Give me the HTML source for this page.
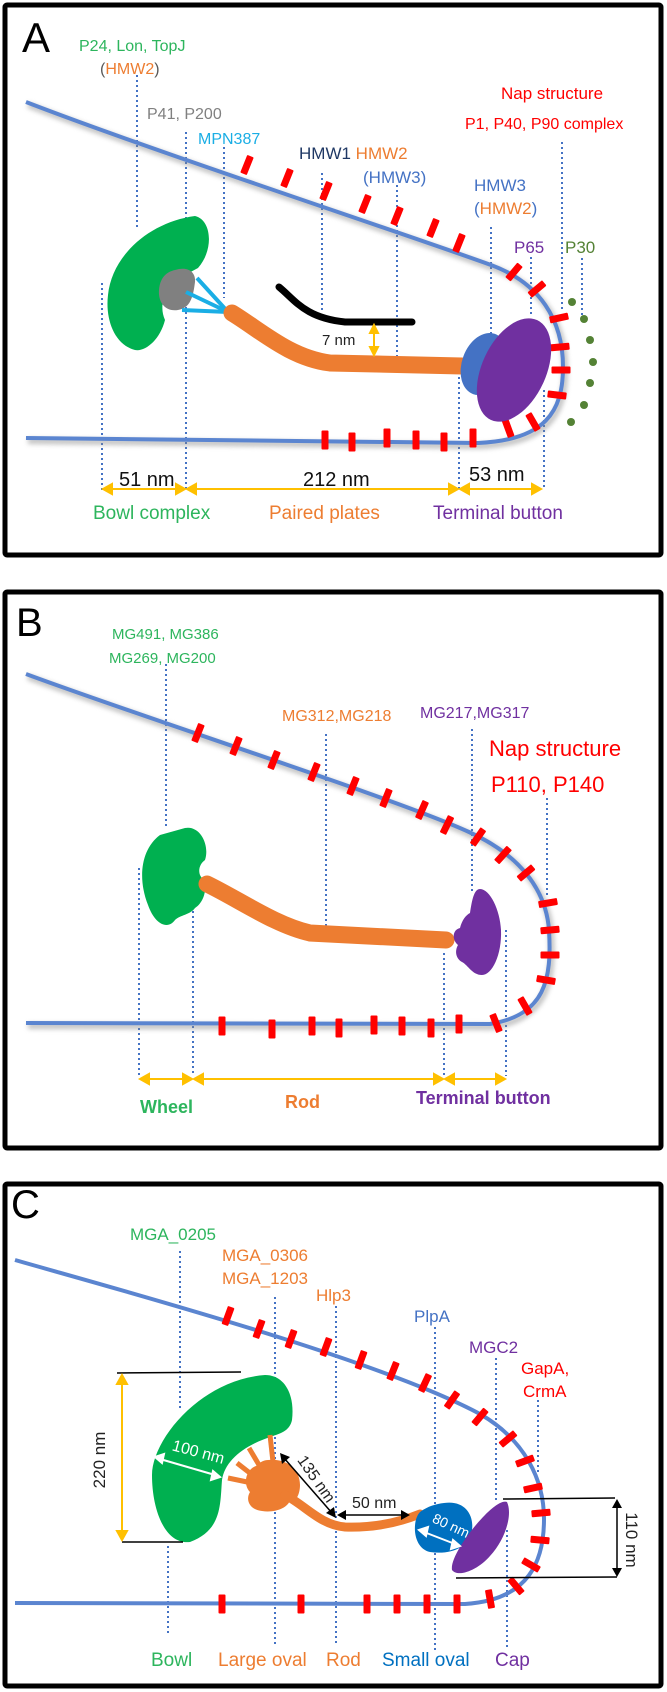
<!DOCTYPE html>
<html><head><meta charset="utf-8"><style>
html,body{margin:0;padding:0;background:#fff}
svg{display:block}
text{font-family:"Liberation Sans",Arial,sans-serif}
</style></head><body>
<svg width="667" height="1692" viewBox="0 0 667 1692" xmlns="http://www.w3.org/2000/svg">
<defs>
<filter id="bl" x="-10%" y="-10%" width="120%" height="120%"><feGaussianBlur stdDeviation="2.5"/></filter>
<g id="rm"><rect x="-3.5" y="-9.5" width="7" height="19" rx="1" fill="#ff0000"/></g>
</defs>

<rect x="5" y="5" width="656" height="550" fill="none" stroke="#000" stroke-width="5" rx="2"/>
<rect x="5" y="592" width="656" height="556" fill="none" stroke="#000" stroke-width="5" rx="2"/>
<rect x="5" y="1184" width="656" height="502" fill="none" stroke="#000" stroke-width="5" rx="2"/>

<!-- ================= PANEL A ================= -->
<text x="22" y="52" font-size="42">A</text>
<g stroke="#4472c4" stroke-width="2" stroke-dasharray="2,3" fill="none">
<line x1="137" y1="75" x2="137" y2="230"/>
<line x1="186" y1="132" x2="186" y2="490"/>
<line x1="224" y1="147" x2="224" y2="298"/>
<line x1="102" y1="283" x2="102" y2="492"/>
<line x1="322" y1="173" x2="322" y2="310"/>
<line x1="397" y1="185" x2="397" y2="363"/>
<line x1="491" y1="227" x2="491" y2="337"/>
<line x1="459" y1="377" x2="459" y2="490"/>
<line x1="531" y1="257" x2="531" y2="317"/>
<line x1="562" y1="142" x2="562" y2="310"/>
<line x1="544" y1="390" x2="544" y2="487"/>
<line x1="582" y1="258" x2="582" y2="317"/>
</g>
<path d="M26,102 C150,150 400,232 491,265 C540,283 563,320 563,367 C563,412 545,440 478,443 L26,438" fill="none" stroke="#888" stroke-width="6" opacity="0.5" filter="url(#bl)" transform="translate(2,3)"/>
<path d="M26,102 C150,150 400,232 491,265 C540,283 563,320 563,367 C563,412 545,440 478,443 L26,438" fill="none" stroke="#5b85d0" stroke-width="4"/>
<g>
<use href="#rm" transform="translate(247,165) rotate(22)"/>
<use href="#rm" transform="translate(287,178) rotate(22)"/>
<use href="#rm" transform="translate(326,191) rotate(22)"/>
<use href="#rm" transform="translate(365,204) rotate(22)"/>
<use href="#rm" transform="translate(397,216) rotate(22)"/>
<use href="#rm" transform="translate(433,228) rotate(22)"/>
<use href="#rm" transform="translate(459,243) rotate(22)"/>
<use href="#rm" transform="translate(514,272) rotate(40)"/>
<use href="#rm" transform="translate(537,289) rotate(50)"/>
<use href="#rm" transform="translate(559,318) rotate(78)"/>
<use href="#rm" transform="translate(560,347) rotate(85)"/>
<use href="#rm" transform="translate(561,370) rotate(90)"/>
<use href="#rm" transform="translate(557,395) rotate(97)"/>
<use href="#rm" transform="translate(533,422) rotate(-30)"/>
<use href="#rm" transform="translate(508,428) rotate(-20)"/>
<use href="#rm" transform="translate(325,440)"/>
<use href="#rm" transform="translate(352,442)"/>
<use href="#rm" transform="translate(387,438)"/>
<use href="#rm" transform="translate(416,440)"/>
<use href="#rm" transform="translate(444,442)"/>
<use href="#rm" transform="translate(473,438)"/>
</g>
<g fill="#548235">
<circle cx="572" cy="302" r="4"/><circle cx="584" cy="319" r="4"/><circle cx="590" cy="340" r="4"/>
<circle cx="593" cy="362" r="4"/><circle cx="590" cy="383" r="4"/><circle cx="584" cy="405" r="4"/><circle cx="571" cy="422" r="4"/>
</g>
<path d="M195,216 C212,220 214,250 198,268 L185,275 C165,285 158,305 165,320 C160,340 145,352 135,350 C115,345 105,320 108,295 C112,255 150,222 195,216 Z" fill="#00b050"/>
<path d="M175,270 C188,266 196,272 195,282 C193,298 190,308 178,310 C165,312 158,302 159,290 C160,278 166,272 175,270 Z" fill="#808080"/>
<g stroke="#1aaee5" stroke-width="4"><line x1="197" y1="278" x2="228" y2="312"/><line x1="186" y1="292" x2="228" y2="312"/><line x1="182" y1="310" x2="228" y2="312"/></g>
<path d="M232,313 C260,330 290,358 330,363 L462,366" fill="none" stroke="#ed7d31" stroke-width="17" stroke-linecap="round"/>
<path d="M279,287 C295,300 305,318 345,322 L412,322" fill="none" stroke="#000" stroke-width="7" stroke-linecap="round"/>
<ellipse cx="484" cy="364" rx="22" ry="32" transform="rotate(20 484 364)" fill="#4472c4"/>
<ellipse cx="514" cy="370" rx="32" ry="55" transform="rotate(25 514 370)" fill="#7030a0"/>
<g stroke="#ffc000" stroke-width="2" fill="#ffc000">
<line x1="374" y1="330" x2="374" y2="350"/>
<polygon points="374,325 370,333 378,333"/><polygon points="374,355 370,347 378,347"/>
<line x1="108" y1="489" x2="180" y2="489"/><line x1="192" y1="489" x2="453" y2="489"/><line x1="465" y1="489" x2="535" y2="489"/>
<polygon points="103,489 112,484 112,494"/><polygon points="185,489 176,484 176,494"/>
<polygon points="187,489 196,484 196,494"/><polygon points="458,489 449,484 449,494"/>
<polygon points="460,489 469,484 469,494"/><polygon points="541,489 532,484 532,494"/>
</g>
<text x="322" y="345" font-size="15" fill="#222">7 nm</text>
<text x="119" y="486" font-size="20" fill="#111">51 nm</text>
<text x="303" y="486" font-size="20" fill="#111">212 nm</text>
<text x="469" y="481" font-size="20" fill="#111">53 nm</text>
<text x="93" y="519" font-size="19" fill="#2db55d">Bowl complex</text>
<text x="269" y="519" font-size="19" fill="#ed7d31">Paired plates</text>
<text x="433" y="519" font-size="19" fill="#7030a0">Terminal button</text>
<text x="79" y="51" font-size="16" fill="#2db55d">P24, Lon, TopJ</text>
<text x="100" y="74" font-size="16" fill="#595959">(<tspan fill="#ed7d31">HMW2</tspan>)</text>
<text x="147" y="119" font-size="16" fill="#808080">P41, P200</text>
<text x="198" y="144" font-size="16" fill="#1aaee5">MPN387</text>
<text x="299" y="159" font-size="17" fill="#1f3864">HMW1 <tspan fill="#ed7d31">HMW2</tspan></text>
<text x="363" y="183" font-size="17" fill="#4472c4">(HMW3)</text>
<text x="474" y="191" font-size="17" fill="#4472c4">HMW3</text>
<text x="474" y="214" font-size="17" fill="#4472c4">(<tspan fill="#ed7d31">HMW2</tspan>)</text>
<text x="514" y="253" font-size="17" fill="#7030a0">P65</text>
<text x="565" y="253" font-size="17" fill="#548235">P30</text>
<text x="501" y="99" font-size="17" fill="#ff0000">Nap structure</text>
<text x="465" y="129" font-size="16" fill="#ff0000">P1,  P40, P90 complex</text>

<!-- ================= PANEL B ================= -->
<text x="16" y="636" font-size="40">B</text>
<g stroke="#4472c4" stroke-width="2" stroke-dasharray="2,3" fill="none">
<line x1="166" y1="664" x2="166" y2="826"/>
<line x1="326" y1="734" x2="326" y2="930"/>
<line x1="472" y1="729" x2="472" y2="894"/>
<line x1="547" y1="798" x2="547" y2="898"/>
<line x1="139" y1="868" x2="139" y2="1076"/>
<line x1="193" y1="891" x2="193" y2="1076"/>
<line x1="444" y1="953" x2="444" y2="1076"/>
<line x1="506" y1="930" x2="506" y2="1076"/>
</g>
<path d="M26,674 C150,720 400,800 469,832 C520,855 546,890 549,930 C552,980 545,1015 490,1024 L26,1023" fill="none" stroke="#888" stroke-width="6" opacity="0.5" filter="url(#bl)" transform="translate(2,3)"/>
<path d="M26,674 C150,720 400,800 469,832 C520,855 546,890 549,930 C552,980 545,1015 490,1024 L26,1023" fill="none" stroke="#5b85d0" stroke-width="4"/>
<g>
<use href="#rm" transform="translate(198,733) rotate(22)"/>
<use href="#rm" transform="translate(236,746) rotate(22)"/>
<use href="#rm" transform="translate(274,760) rotate(22)"/>
<use href="#rm" transform="translate(314,772) rotate(22)"/>
<use href="#rm" transform="translate(353,786) rotate(22)"/>
<use href="#rm" transform="translate(386,798) rotate(22)"/>
<use href="#rm" transform="translate(422,810) rotate(24)"/>
<use href="#rm" transform="translate(447,825) rotate(26)"/>
<use href="#rm" transform="translate(478,837) rotate(35)"/>
<use href="#rm" transform="translate(503,855) rotate(42)"/>
<use href="#rm" transform="translate(526,873) rotate(50)"/>
<use href="#rm" transform="translate(548,903) rotate(80)"/>
<use href="#rm" transform="translate(550,930) rotate(85)"/>
<use href="#rm" transform="translate(550,955) rotate(90)"/>
<use href="#rm" transform="translate(546,980) rotate(100)"/>
<use href="#rm" transform="translate(525,1006) rotate(-30)"/>
<use href="#rm" transform="translate(496,1023) rotate(-22)"/>
<use href="#rm" transform="translate(222,1026)"/>
<use href="#rm" transform="translate(272,1029)"/>
<use href="#rm" transform="translate(312,1026)"/>
<use href="#rm" transform="translate(339,1028)"/>
<use href="#rm" transform="translate(374,1025)"/>
<use href="#rm" transform="translate(402,1026)"/>
<use href="#rm" transform="translate(431,1028)"/>
<use href="#rm" transform="translate(459,1024)"/>
</g>
<path d="M185,828 C200,825 210,845 205,860 C198,865 197,875 204,880 C208,895 200,905 195,908 C190,915 180,915 175,920 C168,930 155,925 148,905 C138,880 140,850 160,835 Z" fill="#00b050"/>
<path d="M207,884 C240,900 275,925 310,933 L446,940" fill="none" stroke="#ed7d31" stroke-width="17" stroke-linecap="round"/>
<path d="M480,889 C490,889 500,910 501,930 C502,955 492,975 482,975 C472,975 468,965 462,962 C455,958 455,950 458,945 C452,940 452,930 460,928 C462,920 466,915 470,913 C472,900 474,889 480,889 Z" fill="#7030a0"/>
<g stroke="#ffc000" stroke-width="2" fill="#ffc000">
<line x1="145" y1="1079" x2="187" y2="1079"/><line x1="199" y1="1079" x2="438" y2="1079"/><line x1="450" y1="1079" x2="500" y2="1079"/>
<polygon points="140,1079 149,1074 149,1084"/><polygon points="192,1079 183,1074 183,1084"/>
<polygon points="194,1079 203,1074 203,1084"/><polygon points="443,1079 434,1074 434,1084"/>
<polygon points="445,1079 454,1074 454,1084"/><polygon points="505,1079 496,1074 496,1084"/>
</g>
<text x="140" y="1113" font-size="18" font-weight="bold" fill="#2db55d">Wheel</text>
<text x="285" y="1108" font-size="18" font-weight="bold" fill="#ed7d31">Rod</text>
<text x="416" y="1104" font-size="18" font-weight="bold" fill="#7030a0">Terminal button</text>
<text x="112" y="639" font-size="15" fill="#2db55d">MG491, MG386</text>
<text x="109" y="663" font-size="15" fill="#2db55d">MG269, MG200</text>
<text x="282" y="721" font-size="16" fill="#ed7d31">MG312,MG218</text>
<text x="420" y="718" font-size="16" fill="#7030a0">MG217,MG317</text>
<text x="489" y="756" font-size="22" fill="#ff0000">Nap structure</text>
<text x="491" y="792" font-size="22" fill="#ff0000">P110,  P140</text>

<!-- ================= PANEL C ================= -->
<text x="11" y="1218" font-size="40">C</text>
<g stroke="#4472c4" stroke-width="2" stroke-dasharray="2,3" fill="none">
<line x1="180" y1="1251" x2="180" y2="1410"/>
<line x1="168" y1="1546" x2="168" y2="1634"/>
<line x1="275" y1="1297" x2="275" y2="1647"/>
<line x1="336" y1="1306" x2="336" y2="1643"/>
<line x1="435" y1="1327" x2="435" y2="1504"/>
<line x1="435" y1="1553" x2="435" y2="1653"/>
<line x1="496" y1="1358" x2="496" y2="1500"/>
<line x1="507" y1="1530" x2="507" y2="1649"/>
<line x1="538" y1="1400" x2="538" y2="1473"/>
</g>
<path d="M15,1260 C120,1290 380,1360 480,1414 C525,1440 544,1480 544,1519 C544,1560 530,1600 465,1604 L15,1603" fill="none" stroke="#5b85d0" stroke-width="4"/>
<g>
<use href="#rm" transform="translate(228,1316) rotate(20)"/>
<use href="#rm" transform="translate(259,1329) rotate(20)"/>
<use href="#rm" transform="translate(291,1339) rotate(20)"/>
<use href="#rm" transform="translate(326,1347) rotate(20)"/>
<use href="#rm" transform="translate(361,1360) rotate(20)"/>
<use href="#rm" transform="translate(393,1371) rotate(22)"/>
<use href="#rm" transform="translate(425,1383) rotate(25)"/>
<use href="#rm" transform="translate(452,1400) rotate(35)"/>
<use href="#rm" transform="translate(480,1417) rotate(40)"/>
<use href="#rm" transform="translate(508,1439) rotate(50)"/>
<use href="#rm" transform="translate(525,1461) rotate(70)"/>
<use href="#rm" transform="translate(533,1488) rotate(78)"/>
<use href="#rm" transform="translate(541,1513) rotate(85)"/>
<use href="#rm" transform="translate(540,1540) rotate(95)"/>
<use href="#rm" transform="translate(531,1565) rotate(-60)"/>
<use href="#rm" transform="translate(516,1586) rotate(-40)"/>
<use href="#rm" transform="translate(490,1599) rotate(-10)"/>
<use href="#rm" transform="translate(222,1604)"/>
<use href="#rm" transform="translate(301,1604)"/>
<use href="#rm" transform="translate(367,1604)"/>
<use href="#rm" transform="translate(397,1604)"/>
<use href="#rm" transform="translate(427,1604)"/>
<use href="#rm" transform="translate(457,1604)"/>
</g>
<path d="M265,1375 C285,1375 295,1395 292,1420 C290,1430 282,1433 273,1436 C245,1445 225,1460 222,1480 C220,1505 222,1530 190,1542 C165,1545 152,1510 152,1475 C152,1440 200,1380 265,1375 Z" fill="#00b050"/>
<g stroke="#ed7d31" stroke-width="5">
<line x1="270" y1="1435" x2="273" y2="1462"/><line x1="249" y1="1448" x2="262" y2="1470"/>
<line x1="237" y1="1463" x2="255" y2="1477"/><line x1="228" y1="1478" x2="252" y2="1483"/>
</g>
<path d="M268,1460 C285,1458 300,1468 300,1485 C300,1498 292,1505 290,1500 C288,1508 275,1513 262,1511 C250,1510 245,1500 250,1492 C243,1485 245,1470 256,1466 C260,1462 264,1460 268,1460 Z" fill="#ed7d31"/>
<path d="M285,1495 C305,1505 320,1525 345,1527 C375,1528 400,1522 420,1514" fill="none" stroke="#ed7d31" stroke-width="9" stroke-linecap="round"/>
<path d="M444,1503 C465,1500 474,1515 472,1530 C470,1548 450,1555 430,1552 C412,1548 412,1520 420,1512 C428,1506 436,1504 444,1503 Z" fill="#0070c0"/>
<path d="M507,1502 C513,1515 505,1540 490,1556 C478,1570 458,1578 452,1570 C450,1558 470,1530 485,1515 C493,1507 502,1500 507,1502 Z" fill="#7030a0"/>
<g stroke="#000" stroke-width="1.5">
<line x1="117" y1="1373" x2="241" y2="1372"/><line x1="122" y1="1542" x2="183" y2="1542"/>
<line x1="503" y1="1499" x2="615" y2="1498"/><line x1="456" y1="1578" x2="617" y2="1577"/>
<line x1="617" y1="1505" x2="617" y2="1571"/>
<line x1="284" y1="1458" x2="332" y2="1513"/>
<line x1="342" y1="1515" x2="404" y2="1515"/>
</g>
<g fill="#000">
<polygon points="617,1499 612,1508 622,1508"/><polygon points="617,1577 612,1568 622,1568"/>
<polygon points="280,1453 282,1464 290,1457"/><polygon points="336,1518 326,1513 334,1507"/>
<polygon points="337,1515 346,1510 346,1520"/><polygon points="410,1515 401,1510 401,1520"/>
</g>
<g stroke="#ffc000" stroke-width="2" fill="#ffc000">
<line x1="122" y1="1380" x2="122" y2="1535"/>
<polygon points="122,1375 117,1384 127,1384"/><polygon points="122,1540 117,1531 127,1531"/>
</g>
<g stroke="#fff" stroke-width="2" fill="#fff">
<line x1="160" y1="1459" x2="215" y2="1475"/>
<polygon points="155,1457 164,1454 162,1463"/><polygon points="220,1477 211,1480 213,1471"/>
<line x1="424" y1="1532" x2="455" y2="1544"/>
<polygon points="419,1530 428,1527 426,1536"/><polygon points="460,1546 451,1549 453,1540"/>
</g>
<text transform="translate(197,1457) rotate(15)" text-anchor="middle" font-size="16" fill="#fff">100 nm</text>
<text transform="translate(449,1530) rotate(25)" text-anchor="middle" font-size="14" fill="#fff">80 nm</text>
<text transform="translate(312,1482) rotate(55)" text-anchor="middle" font-size="16" fill="#222">135 nm</text>
<text x="352" y="1508" font-size="16" fill="#222">50 nm</text>
<text transform="translate(105,1460) rotate(-90)" text-anchor="middle" font-size="17" fill="#222">220 nm</text>
<text transform="translate(626,1540) rotate(90)" text-anchor="middle" font-size="17" fill="#222">110 nm</text>
<text x="130" y="1240" font-size="17" fill="#2db55d">MGA_0205</text>
<text x="222" y="1261" font-size="17" fill="#ed7d31">MGA_0306</text>
<text x="222" y="1284" font-size="17" fill="#ed7d31">MGA_1203</text>
<text x="316" y="1301" font-size="17" fill="#ed7d31">Hlp3</text>
<text x="414" y="1322" font-size="17" fill="#4472c4">PlpA</text>
<text x="469" y="1353" font-size="17" fill="#7030a0">MGC2</text>
<text x="521" y="1374" font-size="17" fill="#ff0000">GapA,</text>
<text x="523" y="1397" font-size="17" fill="#ff0000">CrmA</text>
<text x="151" y="1666" font-size="19" fill="#2db55d">Bowl</text>
<text x="218" y="1666" font-size="19" fill="#ed7d31">Large oval</text>
<text x="326" y="1666" font-size="19" fill="#ed7d31">Rod</text>
<text x="382" y="1666" font-size="19" fill="#0070c0">Small oval</text>
<text x="495" y="1666" font-size="19" fill="#7030a0">Cap</text>
</svg>
</body></html>
